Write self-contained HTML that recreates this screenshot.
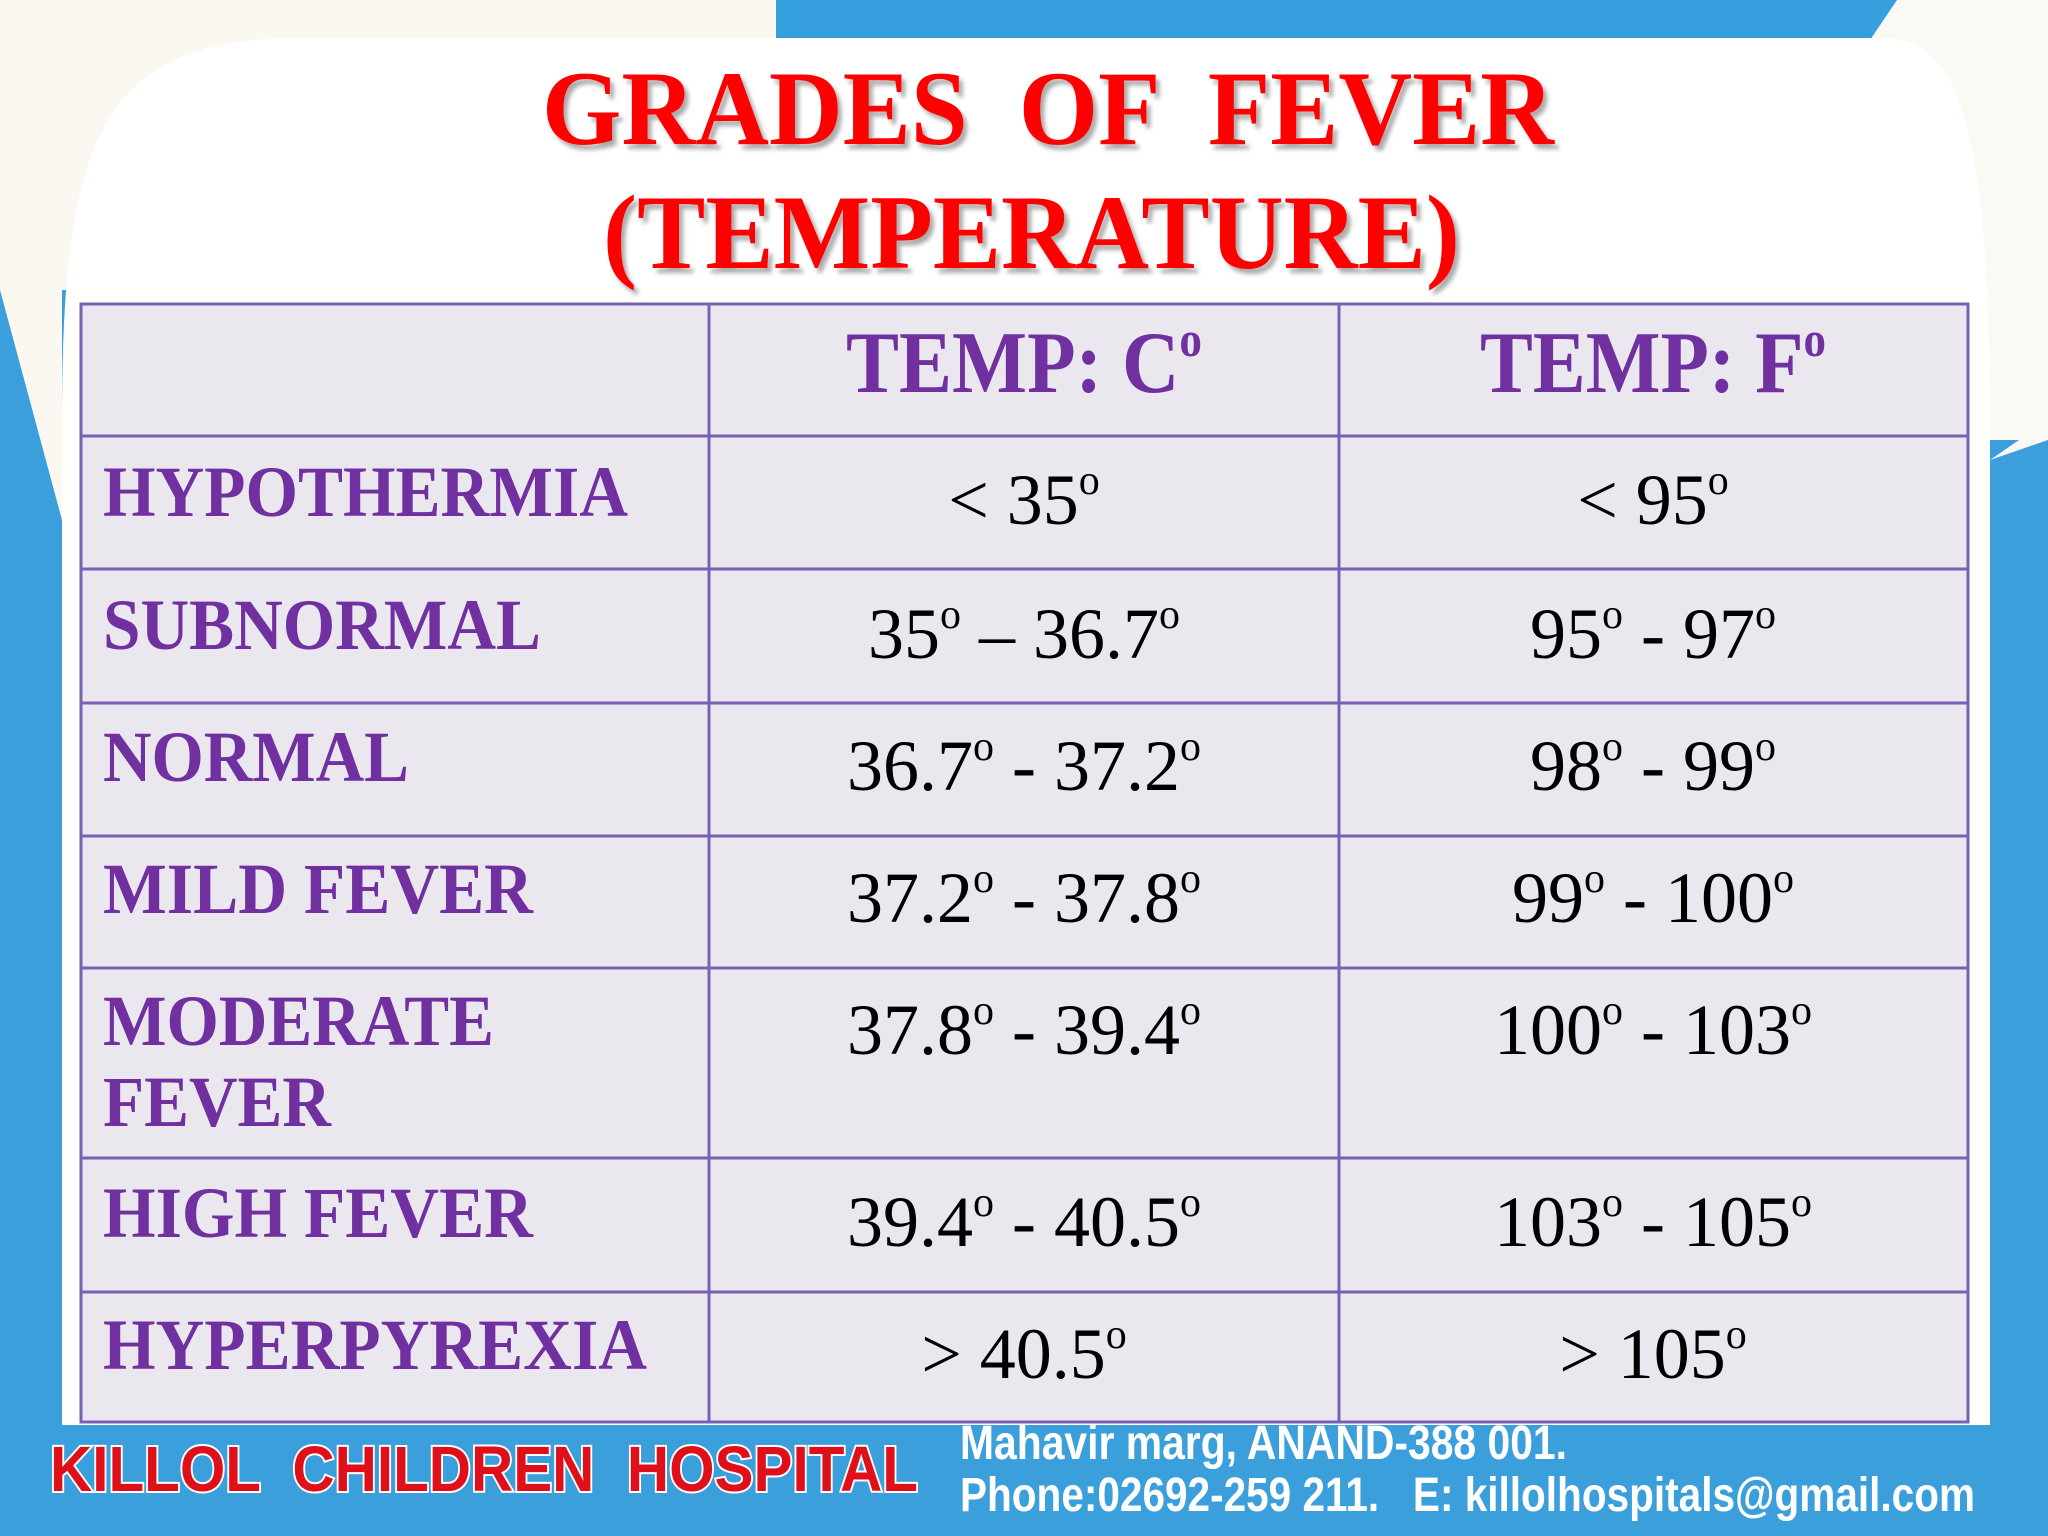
<!DOCTYPE html>
<html><head><meta charset="utf-8"><style>
html,body{margin:0;padding:0;width:2048px;height:1536px;overflow:hidden;background:#3b9fdb}
svg{display:block}
text{white-space:pre}
.lab{font-family:"Liberation Serif",serif;font-weight:bold;fill:#7030a0;font-size:72px}
.val{font-family:"Liberation Serif",serif;fill:#000;font-size:72px}
.hdr{font-family:"Liberation Serif",serif;font-weight:bold;fill:#7030a0;font-size:88px}
</style></head><body>
<svg width="2048" height="1536" viewBox="0 0 2048 1536">
<defs>
<filter id="sh" x="-5%" y="-5%" width="110%" height="120%"><feDropShadow dx="4" dy="5" stdDeviation="2" flood-color="#888" flood-opacity="0.7"/></filter>
</defs>
<rect x="0" y="0" width="2048" height="1536" fill="#3b9fdb"/>
<rect x="0" y="0" width="2048" height="40" fill="#fbf8f1"/>
<rect x="0" y="0" width="400" height="290" fill="#fbf8f1"/>
<polygon points="0,290 62,290 62,520" fill="#fbf8f1"/>
<rect x="1880" y="0" width="168" height="440" fill="#fbf9f4"/>
<polygon points="2048,440 1990,460 2048,420" fill="#fbf9f4"/>
<polygon points="776,0 1897,0 1870,40 776,40" fill="#36a0df"/>
<path d="M62,420 C62,140 100,38 300,38 L1880,38 C1960,38 1990,120 1990,440 L1990,1445 L62,1445 Z" fill="#ffffff"/>
<rect x="0" y="1425" width="2048" height="111" fill="#3b9fdb"/>

<g font-family="Liberation Serif, serif" font-weight="bold" fill="#ff0000" font-size="106" filter="url(#sh)">
<text x="542" y="144" textLength="1012" lengthAdjust="spacingAndGlyphs">GRADES  OF  FEVER</text>
<text x="603" y="268" textLength="857" lengthAdjust="spacingAndGlyphs">(TEMPERATURE)</text>
</g>

<g>
<rect x="81" y="304" width="1887" height="1118" fill="#ebe7ef"/>
<g stroke="#7b5fb3" stroke-width="3" fill="none">
<rect x="81" y="304" width="1887" height="1118"/>
<line x1="709" y1="304" x2="709" y2="1422"/>
<line x1="1339" y1="304" x2="1339" y2="1422"/>
<line x1="81" y1="436" x2="1968" y2="436"/>
<line x1="81" y1="569" x2="1968" y2="569"/>
<line x1="81" y1="703" x2="1968" y2="703"/>
<line x1="81" y1="836" x2="1968" y2="836"/>
<line x1="81" y1="968" x2="1968" y2="968"/>
<line x1="81" y1="1158" x2="1968" y2="1158"/>
<line x1="81" y1="1292" x2="1968" y2="1292"/>
</g>
<text class="hdr" x="846" y="392" textLength="356" lengthAdjust="spacingAndGlyphs">TEMP: C<tspan font-size="50" dy="-36">o</tspan></text>
<text class="hdr" x="1480" y="392" textLength="346" lengthAdjust="spacingAndGlyphs">TEMP: F<tspan font-size="50" dy="-36">o</tspan></text>

<text class="lab" x="103" y="516" textLength="525" lengthAdjust="spacingAndGlyphs">HYPOTHERMIA</text>
<text class="lab" x="103" y="649" textLength="438" lengthAdjust="spacingAndGlyphs">SUBNORMAL</text>
<text class="lab" x="103" y="781" textLength="306" lengthAdjust="spacingAndGlyphs">NORMAL</text>
<text class="lab" x="103" y="913" textLength="430" lengthAdjust="spacingAndGlyphs">MILD FEVER</text>
<text class="lab" x="103" y="1045" textLength="391" lengthAdjust="spacingAndGlyphs">MODERATE</text>
<text class="lab" x="103" y="1126" textLength="228" lengthAdjust="spacingAndGlyphs">FEVER</text>
<text class="lab" x="103" y="1237" textLength="430" lengthAdjust="spacingAndGlyphs">HIGH FEVER</text>
<text class="lab" x="103" y="1369" textLength="544" lengthAdjust="spacingAndGlyphs">HYPERPYREXIA</text>

<g class="val" text-anchor="middle">
<text class="val" x="1024" y="524">&lt; 35<tspan font-size="42" dy="-30">o</tspan></text>
<text class="val" x="1653" y="524">&lt; 95<tspan font-size="42" dy="-30">o</tspan></text>
<text class="val" x="1024" y="658">35<tspan font-size="42" dy="-30">o</tspan><tspan dy="30"> – 36.7</tspan><tspan font-size="42" dy="-30">o</tspan></text>
<text class="val" x="1653" y="658">95<tspan font-size="42" dy="-30">o</tspan><tspan dy="30"> - 97</tspan><tspan font-size="42" dy="-30">o</tspan></text>
<text class="val" x="1024" y="790">36.7<tspan font-size="42" dy="-30">o</tspan><tspan dy="30"> - 37.2</tspan><tspan font-size="42" dy="-30">o</tspan></text>
<text class="val" x="1653" y="790">98<tspan font-size="42" dy="-30">o</tspan><tspan dy="30"> - 99</tspan><tspan font-size="42" dy="-30">o</tspan></text>
<text class="val" x="1024" y="922">37.2<tspan font-size="42" dy="-30">o</tspan><tspan dy="30"> - 37.8</tspan><tspan font-size="42" dy="-30">o</tspan></text>
<text class="val" x="1653" y="922">99<tspan font-size="42" dy="-30">o</tspan><tspan dy="30"> - 100</tspan><tspan font-size="42" dy="-30">o</tspan></text>
<text class="val" x="1024" y="1054">37.8<tspan font-size="42" dy="-30">o</tspan><tspan dy="30"> - 39.4</tspan><tspan font-size="42" dy="-30">o</tspan></text>
<text class="val" x="1653" y="1054">100<tspan font-size="42" dy="-30">o</tspan><tspan dy="30"> - 103</tspan><tspan font-size="42" dy="-30">o</tspan></text>
<text class="val" x="1024" y="1246">39.4<tspan font-size="42" dy="-30">o</tspan><tspan dy="30"> - 40.5</tspan><tspan font-size="42" dy="-30">o</tspan></text>
<text class="val" x="1653" y="1246">103<tspan font-size="42" dy="-30">o</tspan><tspan dy="30"> - 105</tspan><tspan font-size="42" dy="-30">o</tspan></text>
<text class="val" x="1024" y="1378">&gt; 40.5<tspan font-size="42" dy="-30">o</tspan></text>
<text class="val" x="1653" y="1378">&gt; 105<tspan font-size="42" dy="-30">o</tspan></text>
</g>
</g>

<text x="50" y="1491" font-family="Liberation Sans, sans-serif" font-weight="bold" font-size="64" fill="#e0101a" stroke="#ffffff" stroke-width="4" paint-order="stroke" textLength="868" lengthAdjust="spacingAndGlyphs">KILLOL  CHILDREN  HOSPITAL</text>
<text x="960" y="1459" font-family="Liberation Sans, sans-serif" font-weight="bold" font-size="48" fill="#ffffff" textLength="607" lengthAdjust="spacingAndGlyphs">Mahavir marg, ANAND-388 001.</text>
<text x="960" y="1511" font-family="Liberation Sans, sans-serif" font-weight="bold" font-size="48" fill="#ffffff" textLength="1015" lengthAdjust="spacingAndGlyphs">Phone:02692-259 211.   E: killolhospitals@gmail.com</text>
</svg>
</body></html>
